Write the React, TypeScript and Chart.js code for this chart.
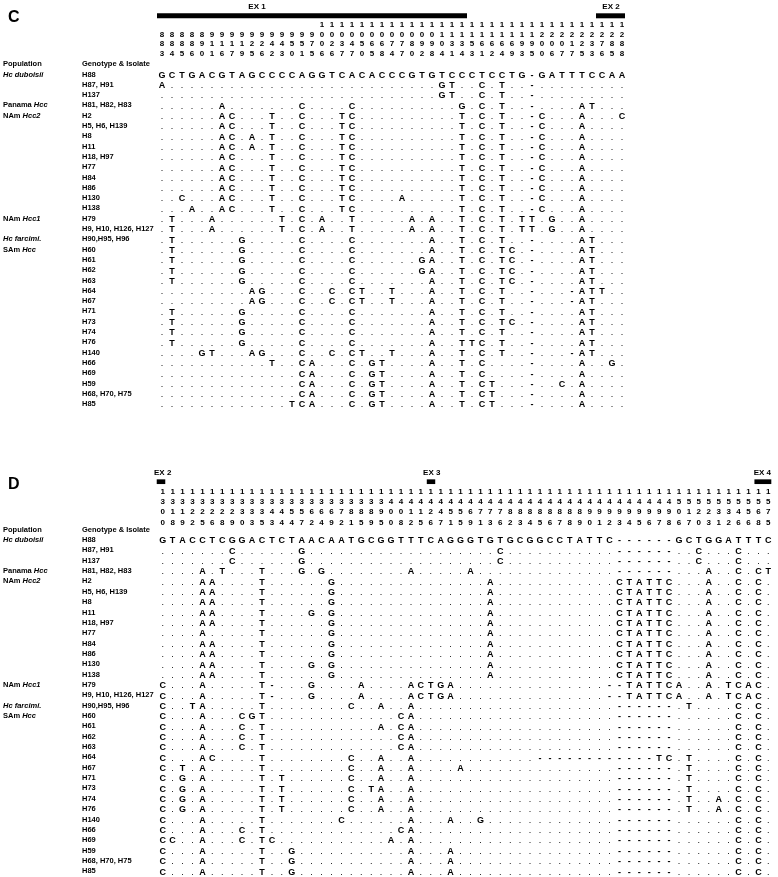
import React, { useEffect, useRef } from 'react';
import { Chart, registerables } from 'chart.js';
Chart.register(...registerables);

const FONT = '"Liberation Sans", Arial, Helvetica, sans-serif';

// ---------- shared row labels ----------
const genotypes = [
  'H88', 'H87, H91', 'H137', 'H81, H82, H83', 'H2', 'H5, H6, H139', 'H8', 'H11', 'H18, H97', 'H77',
  'H84', 'H86', 'H130', 'H138', 'H79', 'H9, H10, H126, H127', 'H90,H95, H96', 'H60', 'H61', 'H62',
  'H63', 'H64', 'H67', 'H71', 'H73', 'H74', 'H76', 'H140', 'H66', 'H69', 'H59', 'H68, H70, H75', 'H85',
];
const populationRows = [0, 3, 4, 14, 16, 17];
const populationNames = ['*Hc duboisii*', 'Panama *Hcc*', 'NAm *Hcc2*', 'NAm *Hcc1*', '*Hc farcimi.*', 'SAm *Hcc*'];

// ---------- panel C ----------
const positionsC = [
  883, 884, 885, 886, 890, 911, 916, 917, 919, 925, 926, 942, 943, 950, 951, 975,
  1006, 1026, 1037, 1047, 1050, 1065, 1068, 1074, 1077, 1080, 1092, 1098, 1104, 1131, 1134,
  1153, 1161, 1162, 1164, 1169, 1193, 1195, 1200, 1206, 1207, 1217, 1225, 1233, 1276, 1285, 1288,
];
const sequencesC = [
  'GCTGACGTAG CCCCAGGTCA CACCCGTGTC CCTCCTG-GA TTTCCAA',
  'A......... .......... ........GT ..C.T..-.. .......',
  '.......... .......... ........GT ..C.T..-.. .......',
  '......A... ....C....C .......... G.C.T..-.. ..AT...',
  '......AC.. .T..C...TC .......... T.C.T..-C. ..A...C',
  '......AC.. .T..C...TC .......... T.C.T..-C. ..A....',
  '......AC.A .T..C...TC .......... T.C.T..-C. ..A....',
  '......AC.A .T..C...TC .......... T.C.T..-C. ..A....',
  '......AC.. .T..C...TC .......... T.C.T..-C. ..A....',
  '......AC.. .T..C...TC .......... T.C.T..-C. ..A....',
  '......AC.. .T..C...TC .......... T.C.T..-C. ..A....',
  '......AC.. .T..C...TC .......... T.C.T..-C. ..A....',
  '..C...AC.. .T..C...TC ....A..... T.C.T..-C. ..A....',
  '...A..AC.. .T..C...TC .......... T.C.T..-C. ..A....',
  '.T...A.... ..T.C.A..T .....A.A.. T.C.T.TT.G ..A....',
  '.T...A.... ..T.C.A..T .....A.A.. T.C.T.TT.G ..A....',
  '.T......G. ....C....C .......A.. T.C.T..-.. ..AT...',
  '.T......G. ....C....C .......A.. T.C.TC.-.. ..AT...',
  '.T......G. ....C....C ......GA.. T.C.TC.-.. ..AT...',
  '.T......G. ....C....C ......GA.. T.C.TC.-.. ..AT...',
  '.T......G. ....C....C .......A.. T.C.TC.-.. ..AT...',
  '.........A G...C..C.C T..T...A.. T.C.T..-.. .-ATT..',
  '.........A G...C..C.C T..T...A.. T.C.T..-.. .-AT...',
  '.T......G. ....C....C .......A.. T.C.T..-.. ..AT...',
  '.T......G. ....C....C .......A.. T.C.TC.-.. ..AT...',
  '.T......G. ....C....C .......A.. T.C.T..-.. ..AT...',
  '.T......G. ....C....C .......A.. TTC.T..-.. ..AT...',
  '....GT...A G...C..C.C T..T...A.. T.C.T..-.. .-AT...',
  '.......... .T..CA...C .GT....A.. T.C....-.. ..A..G.',
  '.......... ....CA...C .GT....A.. T.C....-.. ..A....',
  '.......... ....CA...C .GT....A.. T.CT...-.. C.A....',
  '.......... ....CA...C .GT....A.. T.CT...-.. ..A....',
  '.......... ...TCA...C .GT....A.. T.CT...-.. ..A....',
];
const exonNamesC = ['EX 1', 'EX 2'];
const exonStartC = [-0.5, 43.4];
const exonEndC = [30.5, 46.3];
const exonLabelAtC = [9.5, 44.9];

// ---------- panel D ----------
const positionsD = [
  1300, 1318, 1319, 1322, 1325, 1326, 1328, 1329, 1330, 1333, 1335, 1343, 1344, 1354, 1357, 1362,
  1364, 1369, 1372, 1381, 1385, 1389, 1395, 1400, 1408, 1412, 1415, 1426, 1447, 1451, 1455, 1469,
  1471, 1473, 1476, 1482, 1483, 1484, 1485, 1486, 1487, 1488, 1489, 1490, 1491, 1492, 1493, 1494,
  1495, 1496, 1497, 1498, 1506, 1517, 1520, 1523, 1531, 1532, 1546, 1556, 1568, 1575,
];
const sequencesD = [
  'GTACCTCGGA CTCTAACAAT GCGGTTTCAG GGTGTGCGGC CTATTC---- --GCTGGATT TC',
  '.......C.. ....G..... .......... ....C..... ......---- --..C...C. ..',
  '.......C.. ....G..... .......... ....C..... ......---- --..C...C. ..',
  '....A.T... T...G.G... .....A.... .A........ ......---- --...A..C. CT',
  '....AA.... T......G.. .......... ...A...... ......CTAT TC...A..C. C.',
  '....AA.... T......G.. .......... ...A...... ......CTAT TC...A..C. C.',
  '....AA.... T......G.. .......... ...A...... ......CTAT TC...A..C. C.',
  '....AA.... T....G.G.. .......... ...A...... ......CTAT TC...A..C. C.',
  '....AA.... T......G.. .......... ...A...... ......CTAT TC...A..C. C.',
  '....A..... T......G.. .......... ...A...... ......CTAT TC...A..C. C.',
  '....AA.... T......G.. .......... ...A...... ......CTAT TC...A..C. C.',
  '....AA.... T......G.. .......... ...A...... ......CTAT TC...A..C. C.',
  '....AA.... T....G.G.. .......... ...A...... ......CTAT TC...A..C. C.',
  '....AA.... T......G.. .......... ...A...... ......CTAT TC...A..C. C.',
  'C...A..... T-...G.... A....ACTGA .......... .....--TAT TCA..A.TCA C.',
  'C...A..... T-...G.... A....ACTGA .......... .....--TAT TCA..A.TCA C.',
  'C..TA..... T........C ..A..A.... .......... ......---- --.T....C. C.',
  'C...A...CG T......... ....CA.... .......... ......---- --......C. C.',
  'C...A...C. T......... ..A.CA.... .......... ......---- --......C. C.',
  'C...A...C. T......... ....CA.... .......... ......---- --......C. C.',
  'C...A...C. T......... ....CA.... .......... ......---- --......C. C.',
  'C...AC.... T........C ..A..A.... ........-- ---------- TC.T....C. C.',
  'C.T.A..... T........C ..A..A.... A......... ......---- --.T....C. C.',
  'C.G.A..... T.T......C ..A..A.... .......... ......---- --.T....C. C.',
  'C.G.A..... T.T......C .TA..A.... .......... ......---- --.T....C. C.',
  'C.G.A..... T.T......C ..A..A.... .......... ......---- --.T..A.C. C.',
  'C.G.A..... T.T......C ..A..A.... .......... ......---- --.T..A.C. C.',
  'C...A..... T.......C. .....A...A ..G....... ......---- --......C. C.',
  'C...A...C. T......... ....CA.... .......... ......---- --......C. C.',
  'CC..A...C. TC........ ...A.A.... .......... ......---- --......C. C.',
  'C...A..... T..G...... .....A...A .......... ......---- --......C. C.',
  'C...A..... T..G...... .....A...A .......... ......---- --......C. C.',
  'C...A..... T..G...... .....A...A .......... ......---- --......C. C.',
];
const exonNamesD = ['EX 2', 'EX 3', 'EX 4'];
const exonStartD = [-0.6, 26.6, 59.6];
const exonEndD = [0.26, 27.45, 61.3];
const exonLabelAtD = [0, 27.1, 60.4];

// ---------- layout (pixel geometry, not data) ----------
type Layout = {
  letter: string; canvasH: number; colX0: number; colStep: number; right: number;
  rowY0: number; rowStep: number; digitLine: number; digitLast: number;
  exBarY: number; exBarW: number; exLabelY: number; letterY: number;
};
const layoutC: Layout = {
  letter: 'C', canvasH: 440, colX0: 162, colStep: 10, right: 627, rowY0: 74.5, rowStep: 10.3,
  digitLine: 9.5, digitLast: 53.3, exBarY: 15.8, exBarW: 5, exLabelY: 7, letterY: 18,
};
const layoutD: Layout = {
  letter: 'D', canvasH: 437, colX0: 162.7, colStep: 9.956, right: 775, rowY0: 100, rowStep: 10.35,
  digitLine: 10.2, digitLast: 82.3, exBarY: 41.7, exBarW: 4.7, exLabelY: 33, letterY: 45,
};

type Panel = {
  positions: number[]; sequences: string[]; exNames: string[]; exStart: number[]; exEnd: number[];
  exLabelAt: number[]; layout: Layout;
};

function digitsOf(p: number): string[] {
  return String(p).padStart(4, ' ').split('').map((d) => (d === ' ' ? '' : d));
}

function segmentsOf(s: string) {
  return s.split('*').map((t, i) => ({ t, it: i % 2 === 1 })).filter((p) => p.t.length > 0);
}

function makeChart(canvas: HTMLCanvasElement, panel: Panel) {
  const L = panel.layout;
  const nCols = panel.positions.length;
  const nRows = genotypes.length;
  const left = L.colX0 - L.colStep / 2;
  const xMax = -0.5 + (L.right - left) / L.colStep;
  const top = L.rowY0 - L.rowStep / 2;
  const bottom = L.rowY0 + (nRows - 0.5) * L.rowStep;
  const tickPad = top - L.digitLast - L.digitLine / 2;
  const barRow = (L.exBarY - L.rowY0) / L.rowStep;

  const cells: { x: number; y: number; ch: string }[] = [];
  panel.sequences.forEach((s, r) => {
    const row = s.replace(/ /g, '');
    for (let c = 0; c < nCols; c++) cells.push({ x: c, y: r, ch: row[c] || '.' });
  });

  const exonSets = panel.exNames.map((name, i) => ({
    type: 'line' as const,
    label: name,
    data: [
      { x: panel.exStart[i], y: barRow },
      { x: panel.exEnd[i], y: barRow },
    ],
    borderColor: '#000',
    borderWidth: L.exBarW,
    borderCapStyle: 'butt' as const,
    pointRadius: 0,
    pointHoverRadius: 0,
    clip: false as const,
    tension: 0,
  }));

  const textPlugin = {
    id: 'alignmentText' + L.letter,
    afterDatasetsDraw(chart: any) {
      const ctx: CanvasRenderingContext2D = chart.ctx;
      const xs = chart.scales.x;
      const ys = chart.scales.y;
      ctx.save();
      ctx.fillStyle = '#000';
      // alignment characters
      const meta = chart.getDatasetMeta(0);
      ctx.textAlign = 'center';
      ctx.textBaseline = 'alphabetic';
      meta.data.forEach((el: any, i: number) => {
        const ch = cells[i].ch;
        ctx.font = ch === '.' ? `normal 9px ${FONT}` : `bold 9px ${FONT}`;
        ctx.fillText(ch, el.x, el.y + 3.3);
      });
      // left labels
      ctx.textAlign = 'left';
      ctx.textBaseline = 'middle';
      ctx.font = `bold 7.5px ${FONT}`;
      const yh = ys.getPixelForValue(-1);
      ctx.fillText('Population', 3, yh);
      ctx.fillText('Genotype & Isolate', 82, yh);
      genotypes.forEach((g, r) => ctx.fillText(g, 82, ys.getPixelForValue(r)));
      populationRows.forEach((r, i) => {
        let x = 3;
        const y = ys.getPixelForValue(r);
        segmentsOf(populationNames[i]).forEach((seg) => {
          ctx.font = `${seg.it ? 'italic ' : ''}bold 7.5px ${FONT}`;
          ctx.fillText(seg.t, x, y);
          x += ctx.measureText(seg.t).width;
        });
      });
      // exon labels
      ctx.textAlign = 'center';
      ctx.font = `bold 8px ${FONT}`;
      panel.exNames.forEach((name, i) => {
        ctx.fillText(name, xs.getPixelForValue(panel.exLabelAt[i]), L.exLabelY);
      });
      // panel letter
      ctx.textAlign = 'left';
      ctx.font = `bold 16px ${FONT}`;
      ctx.fillText(L.letter, 8, L.letterY);
      ctx.restore();
    },
  };

  return new Chart(canvas, {
    type: 'scatter',
    data: {
      datasets: [
        {
          type: 'scatter' as const,
          label: 'alignment',
          data: cells,
          pointRadius: 0,
          pointHoverRadius: 0,
          clip: false as const,
        },
        ...exonSets,
      ] as any,
    },
    options: {
      responsive: false,
      animation: false,
      events: [],
      layout: {
        padding: { left, right: 778 - L.right, top: 0, bottom: L.canvasH - bottom },
      },
      plugins: { legend: { display: false }, tooltip: { enabled: false } },
      scales: {
        x: {
          type: 'linear',
          position: 'top',
          min: -0.5,
          max: xMax,
          grid: { display: false, drawTicks: false },
          border: { display: false },
          afterBuildTicks: (axis: any) => {
            axis.ticks = panel.positions.map((_, i) => ({ value: i }));
          },
          afterFit: (axis: any) => {
            axis.height = top;
          },
          ticks: {
            autoSkip: false,
            maxRotation: 0,
            minRotation: 0,
            padding: tickPad,
            color: '#000',
            font: { family: FONT, size: 8, weight: 'bold', lineHeight: `${L.digitLine}px` },
            callback: (v: any) => digitsOf(panel.positions[Math.round(Number(v))]),
          },
        },
        y: {
          type: 'linear',
          display: false,
          min: -0.5,
          max: nRows - 0.5,
          reverse: true,
        },
      },
    } as any,
    plugins: [textPlugin],
  });
}

const panelC: Panel = {
  positions: positionsC, sequences: sequencesC, exNames: exonNamesC, exStart: exonStartC,
  exEnd: exonEndC, exLabelAt: exonLabelAtC, layout: layoutC,
};
const panelD: Panel = {
  positions: positionsD, sequences: sequencesD, exNames: exonNamesD, exStart: exonStartD,
  exEnd: exonEndD, exLabelAt: exonLabelAtD, layout: layoutD,
};

export default function App() {
  const refC = useRef<HTMLCanvasElement>(null);
  const refD = useRef<HTMLCanvasElement>(null);
  useEffect(() => {
    const a = makeChart(refC.current as HTMLCanvasElement, panelC);
    const b = makeChart(refD.current as HTMLCanvasElement, panelD);
    return () => {
      a.destroy();
      b.destroy();
    };
  }, []);
  return (
    <div style={{ position: 'absolute', left: 0, top: 0, width: 778, height: 877, background: '#fff' }}>
      <canvas ref={refC} width={778} height={layoutC.canvasH} style={{ position: 'absolute', left: 0, top: 0 }} />
      <canvas ref={refD} width={778} height={layoutD.canvasH} style={{ position: 'absolute', left: 0, top: layoutC.canvasH }} />
    </div>
  );
}
